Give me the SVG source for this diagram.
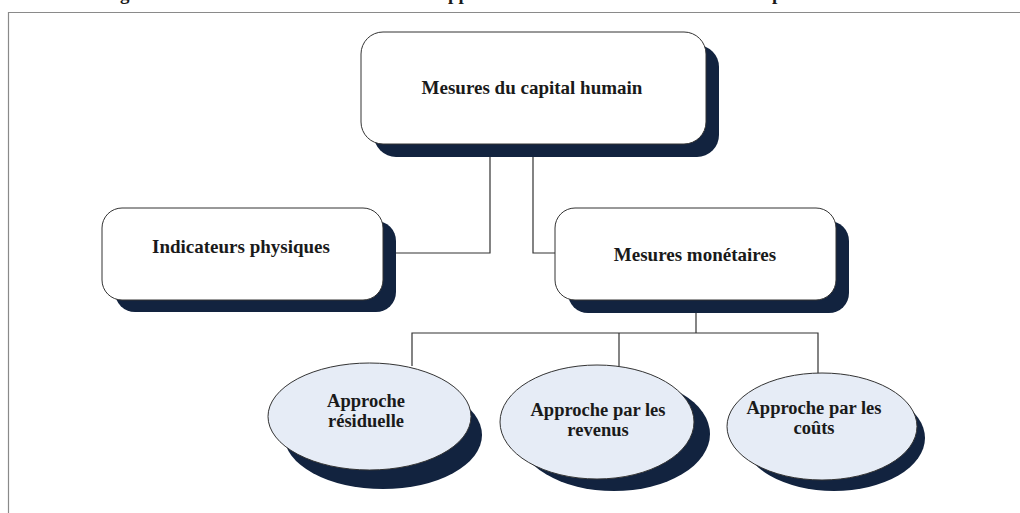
<svg xmlns="http://www.w3.org/2000/svg" width="1020" height="513" viewBox="0 0 1020 513">
<style>
.t{font-family:"Liberation Serif","Times New Roman",serif;font-weight:bold;font-size:19px;fill:#1a1a1a;text-anchor:middle}
.te{font-family:"Liberation Serif","Times New Roman",serif;font-weight:bold;font-size:18.5px;fill:#1a1a1a;text-anchor:middle}
.frag{font-family:"Liberation Serif","Times New Roman",serif;font-weight:bold;font-size:19px;fill:#1a1a1a}
.box{fill:#ffffff;stroke:#333333;stroke-width:1}
.sh{fill:#12233f}
.ell{fill:#e6ecf6;stroke:#333333;stroke-width:1}
.c{fill:none;stroke:#333333;stroke-width:1.2}
</style>
<rect width="1020" height="513" fill="#ffffff"/>
<g id="title-fragments">
<text class="frag" x="120" y="0">g</text>
<text class="frag" x="448" y="0">pp</text>
<text class="frag" x="772" y="0">p</text>
</g>
<path d="M8.5,513 V12.5 H1020" fill="none" stroke="#8a8a8a" stroke-width="1.2"/>
<g id="connectors">
<path class="c" d="M490,145 V253 H396"/>
<path class="c" d="M533,145 V253 H555"/>
<path class="c" d="M696,313 V333"/>
<path class="c" d="M412,366 V333 H818 V374"/>
<path class="c" d="M619,333 V366"/>
</g>
<g id="node-capital">
<rect class="sh" x="374" y="45" width="345" height="112" rx="22"/>
<rect class="box" x="361" y="32" width="345" height="112" rx="22"/>
<text class="t" x="532" y="94">Mesures du capital humain</text>
</g>
<g id="node-physiques">
<rect class="sh" x="115" y="221" width="281" height="91" rx="20"/>
<rect class="box" x="102" y="208" width="281" height="92" rx="20"/>
<text class="t" x="241" y="253">Indicateurs physiques</text>
</g>
<g id="node-monetaires">
<rect class="sh" x="568" y="221" width="281" height="92" rx="20"/>
<rect class="box" x="555" y="208" width="281" height="92" rx="20"/>
<text class="t" x="695" y="261">Mesures monétaires</text>
</g>
<g id="node-residuelle">
<ellipse class="sh" cx="383" cy="435" rx="99" ry="54"/>
<ellipse class="ell" cx="369.5" cy="416.5" rx="101.5" ry="53.5"/>
<text class="te" x="366" y="407">Approche</text>
<text class="te" x="366" y="427">résiduelle</text>
</g>
<g id="node-revenus">
<ellipse class="sh" cx="614" cy="434" rx="96" ry="57"/>
<ellipse class="ell" cx="597" cy="422" rx="97" ry="57"/>
<text class="te" x="598" y="416">Approche par les</text>
<text class="te" x="598" y="436">revenus</text>
</g>
<g id="node-couts">
<ellipse class="sh" cx="834" cy="438" rx="91" ry="53"/>
<ellipse class="ell" cx="822" cy="426.5" rx="95" ry="53.5"/>
<text class="te" x="814" y="414">Approche par les</text>
<text class="te" x="814" y="434">coûts</text>
</g>
</svg>
